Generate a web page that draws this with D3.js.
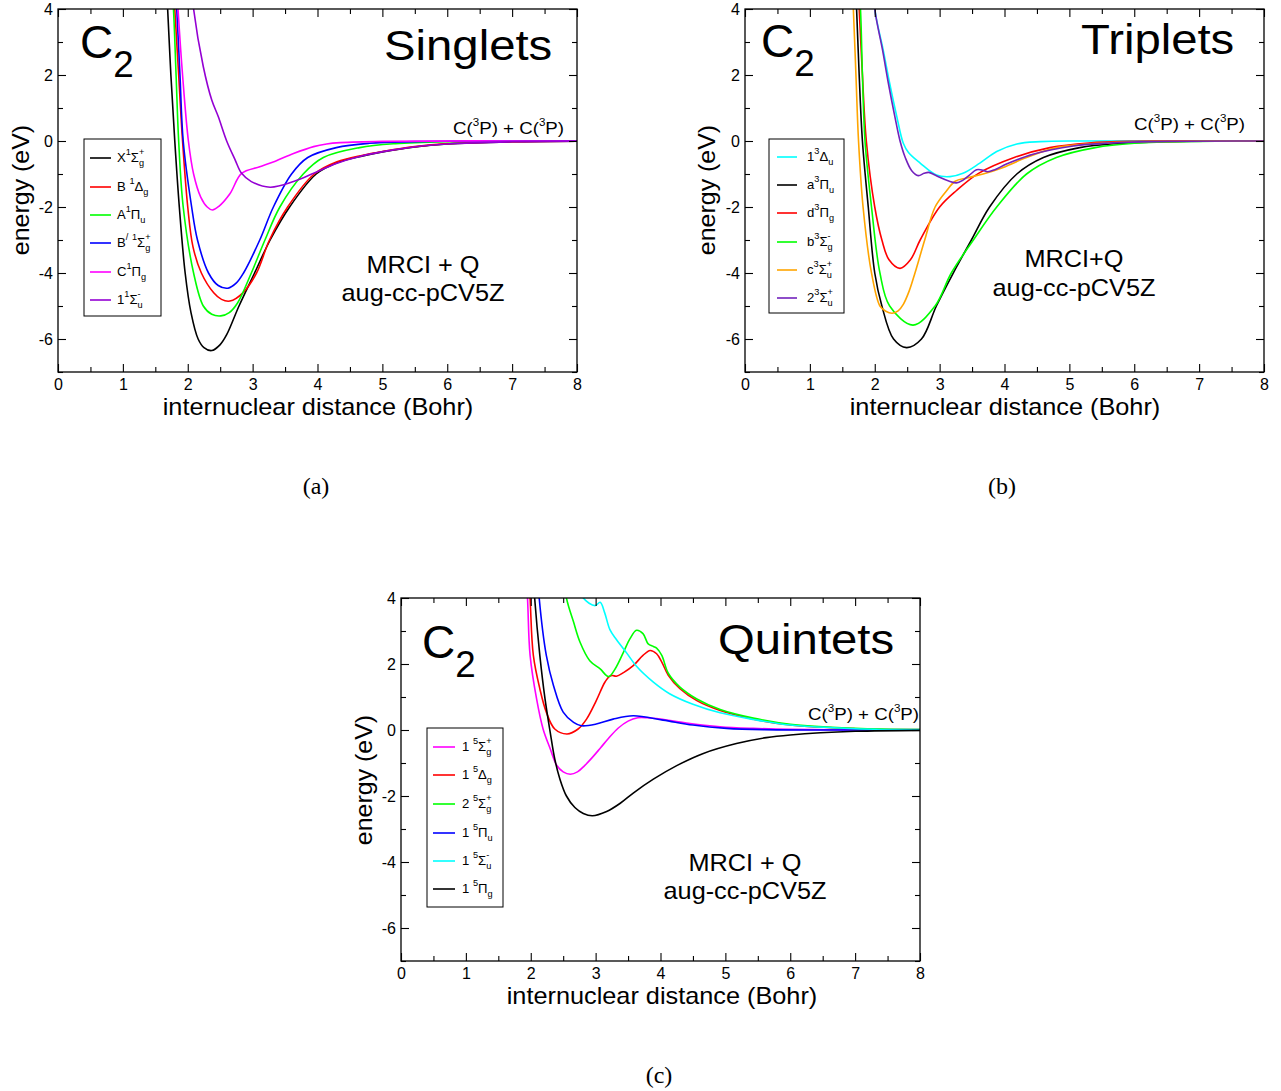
<!DOCTYPE html>
<html>
<head>
<meta charset="utf-8">
<script src="https://cdn.jsdelivr.net/npm/d3@7"></script>
<style>
  html, body { margin: 0; padding: 0; background: #fff; }
  svg { display: block; }
  text { font-family: "Liberation Sans", Arial, Helvetica, sans-serif; fill: #000; }
</style>
</head>
<body>
<svg id="chart" width="1281" height="1091"></svg>
<script>
// C2 potential energy curves, MRCI+Q / aug-cc-pCV5Z.
// Each state: [R (bohr), E (eV) relative to C(3P)+C(3P)].

const xTicks = [0, 1, 2, 3, 4, 5, 6, 7, 8];
const xTickLabels = ["0", "1", "2", "3", "4", "5", "6", "7", "8"];
const xMinor = [0.5, 1.5, 2.5, 3.5, 4.5, 5.5, 6.5, 7.5];
const yTicks = [-6, -4, -2, 0, 2, 4];
const yTickLabels = ["-6", "-4", "-2", "0", "2", "4"];
const yMinor = [-7, -5, -3, -1, 1, 3];
const rDomain = [0, 8];
const eDomain = [-7, 4];

// ---- singlets ----
const sX1Sg = [[1.62,6.5],[1.69,4],[1.74,2],[1.80,0],[1.87,-2],[1.96,-4],[2.05,-5.2],[2.16,-6],[2.25,-6.26],[2.37,-6.35],[2.5,-6.17],[2.6,-5.87],[2.79,-5.0],[3.03,-4.0],[3.27,-3.0],[3.57,-2.0],[3.98,-1.0],[4.3,-0.66],[4.7,-0.45],[5.0,-0.33],[5.5,-0.18],[6.0,-0.09],[7.0,-0.025],[8,-0.005]];
const sB1Dg = [[1.73,6.5],[1.80,4],[1.86,2],[1.92,0],[2.0,-2],[2.08,-3.2],[2.21,-4],[2.4,-4.6],[2.52,-4.8],[2.65,-4.85],[2.85,-4.6],[3.06,-4.0],[3.26,-3.0],[3.54,-2.0],[3.95,-1.0],[4.3,-0.63],[4.7,-0.43],[5.0,-0.32],[5.5,-0.17],[6.0,-0.08],[7.0,-0.02],[8,-0.005]];
const sA1Pu = [[1.70,6.5],[1.78,4],[1.82,2],[1.86,0],[1.93,-2],[2.09,-4],[2.24,-5.0],[2.37,-5.25],[2.51,-5.3],[2.64,-5.2],[2.77,-4.9],[2.98,-4.0],[3.19,-3.0],[3.42,-2.0],[3.78,-1.0],[4.09,-0.5],[4.65,-0.2],[5.2,-0.08],[6,-0.02],[7,-0.004],[8,0]];
const sBp1Sg = [[1.76,6.5],[1.83,4],[1.88,2],[1.93,0],[2.06,-2],[2.15,-3],[2.32,-4],[2.47,-4.38],[2.62,-4.46],[2.75,-4.3],[2.86,-4.0],[3.11,-3.0],[3.32,-2.0],[3.6,-1.0],[3.85,-0.5],[4.29,-0.2],[4.8,-0.07],[5.5,-0.02],[6.5,0],[8,0]];
const sC1Pg = [[1.78,6.5],[1.85,4],[1.92,2],[2.01,0],[2.09,-1],[2.2,-1.7],[2.3,-2.0],[2.38,-2.09],[2.48,-1.98],[2.65,-1.6],[2.83,-0.98],[3.11,-0.78],[3.35,-0.61],[3.63,-0.38],[3.94,-0.17],[4.14,-0.09],[4.35,-0.05],[5,-0.01],[8,0]];
const s11Su = [[1.98,6.5],[2.09,4],[2.24,2.25],[2.37,1.24],[2.47,0.74],[2.6,0],[2.73,-0.57],[2.83,-0.98],[2.98,-1.23],[3.27,-1.4],[3.63,-1.23],[3.94,-0.98],[4.29,-0.68],[4.65,-0.47],[5.17,-0.27],[5.6,-0.15],[6.0,-0.09],[7.0,-0.025],[8,-0.005]];

// ---- triplets ----
const t13Du = [[1.9,6.5],[2.0,4],[2.13,2.76],[2.23,1.75],[2.34,0.74],[2.44,-0.07],[2.52,-0.35],[2.7,-0.67],[2.95,-1.03],[3.16,-1.08],[3.36,-0.98],[3.62,-0.67],[3.88,-0.32],[4.19,-0.09],[4.55,-0.02],[5.2,0],[8,0]];
const ta3Pu = [[1.65,6.5],[1.72,4],[1.76,2],[1.81,0],[1.90,-2],[2.0,-4],[2.11,-5],[2.29,-6],[2.49,-6.26],[2.72,-6],[2.95,-5],[3.21,-4],[3.49,-3],[3.77,-2],[4.19,-1],[4.6,-0.5],[5.16,-0.2],[5.7,-0.08],[6.5,-0.02],[8,0]];
const td3Pg = [[1.68,6.5],[1.76,4],[1.81,2],[1.87,0],[2.0,-2],[2.11,-3],[2.22,-3.6],[2.39,-3.86],[2.55,-3.6],[2.70,-3.0],[3.0,-2.0],[3.26,-1.5],[3.6,-0.98],[4.15,-0.5],[4.7,-0.2],[5.3,-0.06],[6,-0.01],[8,0]];
const tb3Sg = [[1.7,6.5],[1.78,4],[1.81,2],[1.85,0],[1.95,-2],[2.08,-4],[2.23,-5],[2.59,-5.58],[2.93,-5],[3.18,-4],[3.52,-3],[3.88,-2],[4.34,-1],[4.8,-0.5],[5.4,-0.2],[6.0,-0.07],[7,-0.01],[8,0]];
const tc3Su = [[1.6,6.5],[1.67,4],[1.71,2],[1.75,0],[1.82,-2],[1.95,-4],[2.08,-5.0],[2.17,-5.16],[2.27,-5.22],[2.36,-5.15],[2.44,-4.95],[2.53,-4.55],[2.62,-4.0],[2.77,-3.0],[2.93,-2.0],[3.11,-1.5],[3.24,-1.22],[3.42,-1.12],[3.67,-1.0],[3.98,-0.8],[4.34,-0.5],[4.8,-0.2],[5.5,-0.06],[6.5,-0.01],[8,0]];
const t23Su = [[1.9,6.5],[2.0,4],[2.12,2.76],[2.21,1.75],[2.31,0.74],[2.39,0.0],[2.47,-0.5],[2.57,-0.9],[2.67,-1.05],[2.76,-0.98],[2.83,-0.95],[2.92,-1.02],[3.0,-1.1],[3.15,-1.22],[3.26,-1.27],[3.35,-1.2],[3.45,-1.05],[3.57,-0.87],[3.65,-0.88],[3.74,-0.93],[3.85,-0.87],[4.03,-0.7],[4.44,-0.4],[5.06,-0.15],[5.6,-0.06],[6.5,-0.01],[8,0]];

// ---- quintets ----
const q15Sg = [[1.88,6.5],[1.95,4],[1.99,2.26],[2.09,0.94],[2.19,0.03],[2.3,-0.57],[2.4,-1.07],[2.5,-1.27],[2.61,-1.34],[2.72,-1.27],[2.83,-1.08],[2.95,-0.83],[3.08,-0.53],[3.2,-0.25],[3.35,0.06],[3.5,0.27],[3.65,0.37],[3.8,0.37],[4.0,0.33],[4.4,0.21],[4.92,0.1],[5.43,0.05],[6,0.02],[7,0.005],[8,0]];
const q15Dg = [[1.93,6.5],[1.99,4],[2.04,2.26],[2.14,1.25],[2.24,0.54],[2.37,0.03],[2.56,-0.12],[2.73,0.03],[2.86,0.33],[3.01,0.89],[3.14,1.44],[3.21,1.62],[3.26,1.65],[3.32,1.63],[3.43,1.74],[3.58,1.95],[3.73,2.26],[3.84,2.41],[3.94,2.31],[4.02,2.06],[4.12,1.66],[4.3,1.25],[4.56,0.89],[4.92,0.59],[5.43,0.33],[6,0.15],[7,0.04],[8,0.01]];
const q25Sg = [[2.48,5],[2.55,4],[2.66,3.27],[2.76,2.66],[2.91,2.1],[3.07,1.85],[3.2,1.62],[3.3,1.85],[3.43,2.36],[3.53,2.77],[3.63,3.02],[3.73,2.92],[3.81,2.61],[3.89,2.53],[3.94,2.48],[4.02,2.26],[4.12,1.72],[4.3,1.3],[4.56,0.94],[4.92,0.62],[5.43,0.36],[6,0.17],[7,0.05],[8,0.01]];
const q15Pu = [[2.05,6.5],[2.13,4],[2.24,2.26],[2.35,1.35],[2.5,0.54],[2.66,0.23],[2.78,0.13],[3.01,0.18],[3.27,0.33],[3.58,0.43],[4.04,0.3],[4.5,0.15],[5.02,0.05],[5.6,0.01],[6.5,0],[8,0]];
const q15Su = [[2.7,4.6],[2.81,4],[2.99,3.77],[3.07,3.87],[3.14,3.55],[3.22,3.04],[3.32,2.74],[3.48,2.33],[3.63,1.93],[3.89,1.45],[4.14,1.1],[4.5,0.78],[4.92,0.52],[5.43,0.32],[6,0.15],[7,0.04],[8,0.01]];
const q15Pg = [[1.98,6.5],[2.06,4],[2.14,2.26],[2.22,0.94],[2.3,-0.07],[2.37,-0.88],[2.45,-1.49],[2.55,-2.0],[2.68,-2.35],[2.81,-2.53],[2.95,-2.6],[3.17,-2.47],[3.38,-2.22],[3.58,-1.91],[3.89,-1.49],[4.25,-1.08],[4.66,-0.71],[5.17,-0.41],[5.63,-0.23],[6,-0.15],[7,-0.04],[8,-0.01]];

// State labels: pieces of [text, kind]; kind "^" superscript, "_" subscript (stacked under a preceding superscript)
const singletLabels = [
  [["X",""],["1","^"],["Σ",""],["+","^"],["g","_"]],
  [["B\u00a0",""],["1","^"],["Δ",""],["g","_"]],
  [["A",""],["1","^"],["Π",""],["u","_"]],
  [["B",""],["/","^"],["\u00a0",""],["1","^"],["Σ",""],["+","^"],["g","_"]],
  [["C",""],["1","^"],["Π",""],["g","_"]],
  [["1",""],["1","^"],["Σ",""],["-","^"],["u","_"]]
];
const tripletLabels = [
  [["1",""],["3","^"],["Δ",""],["u","_"]],
  [["a",""],["3","^"],["Π",""],["u","_"]],
  [["d",""],["3","^"],["Π",""],["g","_"]],
  [["b",""],["3","^"],["Σ",""],["-","^"],["g","_"]],
  [["c",""],["3","^"],["Σ",""],["+","^"],["u","_"]],
  [["2",""],["3","^"],["Σ",""],["+","^"],["u","_"]]
];
const quintetLabels = [
  [["1\u00a0",""],["5","^"],["Σ",""],["+","^"],["g","_"]],
  [["1\u00a0",""],["5","^"],["Δ",""],["g","_"]],
  [["2\u00a0",""],["5","^"],["Σ",""],["+","^"],["g","_"]],
  [["1\u00a0",""],["5","^"],["Π",""],["u","_"]],
  [["1\u00a0",""],["5","^"],["Σ",""],["-","^"],["u","_"]],
  [["1\u00a0",""],["5","^"],["Π",""],["g","_"]]
];
const singletSeries = [sX1Sg, sB1Dg, sA1Pu, sBp1Sg, sC1Pg, s11Su];
const tripletSeries = [t13Du, ta3Pu, td3Pg, tb3Sg, tc3Su, t23Su];
const quintetSeries = [q15Sg, q15Dg, q25Sg, q15Pu, q15Su, q15Pg];

const panelTitles = ["Singlets", "Triplets", "Quintets"];
const methodLines = [["MRCI + Q", "aug-cc-pCV5Z"], ["MRCI+Q", "aug-cc-pCV5Z"], ["MRCI + Q", "aug-cc-pCV5Z"]];
const captions = ["(a)", "(b)", "(c)"];
const moleculeLabel = [["C",""],["2","_"]];
const asymptoteLabel = [["C(",""],["3","^"],["P) + C(",""],["3","^"],["P)",""]];
const xTitle = "internuclear distance (Bohr)";
const yTitle = "energy (eV)";

// ---- styles ----
const singletColors = ["#000000", "#ff0000", "#00ff00", "#0000ff", "#ff00ff", "#9400d3"];
const tripletColors = ["#00ffff", "#000000", "#ff0000", "#00ff00", "#ffa500", "#7221bc"];
const quintetColors = ["#ff00ff", "#ff0000", "#00ff00", "#0000ff", "#00ffff", "#000000"];

const panels = [
  { series: singletSeries, labels: singletLabels, colors: singletColors,
    box: {x0: 58, x1: 577, y0: 9, y1: 372},
    legend: {x: 84, y: 139, w: 77, h: 177, lineX0: 90, lineX1: 111, textX: 117, rows: [158,187,215,243,272,300]},
    mol: {x: 80, y: 58}, title: {x: 384, y: 60}, asym: {x: 453, y: 134},
    method: {x: 423, y: [273, 301]}, xt: {x: 318, y: 415}, yt: {x: 21, y: 190}, cap: {x: 316, y: 494} },
  { series: tripletSeries, labels: tripletLabels, colors: tripletColors,
    box: {x0: 745, x1: 1264, y0: 9, y1: 372},
    legend: {x: 769, y: 139, w: 75, h: 174, lineX0: 777, lineX1: 797, textX: 807, rows: [157,185,213,242,270,298]},
    mol: {x: 761, y: 57}, title: {x: 1081, y: 54}, asym: {x: 1134, y: 130},
    method: {x: 1074, y: [267, 296]}, xt: {x: 1005, y: 415}, yt: {x: 707, y: 190}, cap: {x: 1002, y: 494} },
  { series: quintetSeries, labels: quintetLabels, colors: quintetColors,
    box: {x0: 401, x1: 920, y0: 598, y1: 961},
    legend: {x: 427, y: 728, w: 76, h: 179, lineX0: 433, lineX1: 455, textX: 462, rows: [747,775,804,833,861,889]},
    mol: {x: 422, y: 658}, title: {x: 718, y: 654}, asym: {x: 808, y: 720},
    method: {x: 745, y: [871, 899]}, xt: {x: 662, y: 1004}, yt: {x: 364, y: 780}, cap: {x: 659, y: 1083} }
];

const MAJOR = 8, MINOR = 5;
const svg = d3.select("#chart");
svg.append("rect").attr("width", 1281).attr("height", 1091).attr("fill", "#fff");
const defs = svg.append("defs");

// Lays out a run of text pieces with super/subscripts; returns the group.
function richText(parent, x, y, pieces, o) {
  const size = o.size;
  let tf = `translate(${x},${y})`;
  if (o.rotate) tf += ` rotate(${o.rotate})`;
  tf += ` scale(${o.sx || 1},1)`;
  const g = parent.append("g").attr("transform", tf);
  const inner = g.append("g");
  let cx = 0, prevStart = 0, prevKind = "";
  for (const [t, kind] of pieces) {
    let fs = size, dy = 0;
    if (kind === "^") { fs = size * (o.supR || 0.6); dy = -size * (o.supDy || 0.45); }
    else if (kind === "_") { fs = size * (o.subR || 0.6); dy = size * (o.subDy || 0.3); }
    const start = (kind === "_" && prevKind === "^") ? prevStart : cx;
    const el = inner.append("text").attr("x", start).attr("y", dy).attr("font-size", fs).text(t);
    if (o.family) el.style("font-family", o.family);
    const w = el.node().getComputedTextLength();
    cx = Math.max(cx, start + w);
    prevStart = start; prevKind = kind;
  }
  const anchor = o.anchor || "start";
  const shift = anchor === "middle" ? -cx / 2 : anchor === "end" ? -cx : 0;
  inner.attr("transform", `translate(${shift},0)`);
  return g;
}

function styleAxis(g, fontSize) {
  g.select(".domain").remove();
  g.attr("font-family", null).attr("font-size", fontSize);
  g.selectAll("line").attr("stroke-width", 1.1);
}

panels.forEach((p, i) => {
  const b = p.box;
  const x = d3.scaleLinear().domain(rDomain).range([b.x0, b.x1]);
  const y = d3.scaleLinear().domain(eDomain).range([b.y1, b.y0]);
  const g = svg.append("g");

  const clipId = `clip-${i}`;
  defs.append("clipPath").attr("id", clipId)
    .append("rect").attr("x", b.x0).attr("y", b.y0).attr("width", b.x1 - b.x0).attr("height", b.y1 - b.y0);

  // curves (centripetal Catmull-Rom through the tabulated points)
  const line = d3.line().x(d => x(d[0])).y(d => y(d[1])).curve(d3.curveCatmullRom.alpha(0.5));
  const curves = g.append("g").attr("clip-path", `url(#${clipId})`);
  p.series.forEach((s, k) => {
    curves.append("path").attr("d", line(s)).attr("fill", "none")
      .attr("stroke", p.colors[k]).attr("stroke-width", 1.6).attr("stroke-linejoin", "round");
  });

  // axes: ticks point inward on all four sides
  const fmtX = d => xTickLabels[xTicks.indexOf(d)];
  const fmtY = d => yTickLabels[yTicks.indexOf(d)];
  const bot = g.append("g").attr("transform", `translate(0,${b.y1})`)
    .call(d3.axisBottom(x).tickValues(xTicks).tickFormat(fmtX).tickSize(-MAJOR).tickSizeOuter(0).tickPadding(7));
  styleAxis(bot, 16);
  const botMinor = g.append("g").attr("transform", `translate(0,${b.y1})`)
    .call(d3.axisBottom(x).tickValues(xMinor).tickFormat("").tickSize(-MINOR).tickSizeOuter(0));
  styleAxis(botMinor, 16);
  const top = g.append("g").attr("transform", `translate(0,${b.y0})`)
    .call(d3.axisTop(x).tickValues(xTicks).tickFormat("").tickSize(-MAJOR).tickSizeOuter(0));
  styleAxis(top, 16);
  const topMinor = g.append("g").attr("transform", `translate(0,${b.y0})`)
    .call(d3.axisTop(x).tickValues(xMinor).tickFormat("").tickSize(-MINOR).tickSizeOuter(0));
  styleAxis(topMinor, 16);
  const left = g.append("g").attr("transform", `translate(${b.x0},0)`)
    .call(d3.axisLeft(y).tickValues(yTicks).tickFormat(fmtY).tickSize(-MAJOR).tickSizeOuter(0).tickPadding(5));
  styleAxis(left, 16);
  const leftMinor = g.append("g").attr("transform", `translate(${b.x0},0)`)
    .call(d3.axisLeft(y).tickValues(yMinor).tickFormat("").tickSize(-MINOR).tickSizeOuter(0));
  styleAxis(leftMinor, 16);
  const right = g.append("g").attr("transform", `translate(${b.x1},0)`)
    .call(d3.axisRight(y).tickValues(yTicks).tickFormat("").tickSize(-MAJOR).tickSizeOuter(0));
  styleAxis(right, 16);
  const rightMinor = g.append("g").attr("transform", `translate(${b.x1},0)`)
    .call(d3.axisRight(y).tickValues(yMinor).tickFormat("").tickSize(-MINOR).tickSizeOuter(0));
  styleAxis(rightMinor, 16);

  g.append("rect").attr("x", b.x0).attr("y", b.y0).attr("width", b.x1 - b.x0).attr("height", b.y1 - b.y0)
    .attr("fill", "none").attr("stroke", "#000").attr("stroke-width", 1.3);

  // legend
  const L = p.legend;
  g.append("rect").attr("x", L.x).attr("y", L.y).attr("width", L.w).attr("height", L.h)
    .attr("fill", "#fff").attr("stroke", "#000").attr("stroke-width", 1);
  p.labels.forEach((lab, k) => {
    const ry = L.rows[k];
    g.append("line").attr("x1", L.lineX0).attr("x2", L.lineX1).attr("y1", ry).attr("y2", ry)
      .attr("stroke", p.colors[k]).attr("stroke-width", 1.6);
    richText(g, L.textX, ry + 4, lab, {size: 12.5, sx: 1.05, supR: 0.7, supDy: 0.55, subR: 0.7, subDy: 0.33});
  });

  // annotations
  richText(g, p.mol.x, p.mol.y, moleculeLabel, {size: 46, subR: 0.8, subDy: 0.41});
  richText(g, p.title.x, p.title.y, [[panelTitles[i], ""]], {size: 43, sx: 1.1});
  richText(g, p.asym.x, p.asym.y, asymptoteLabel, {size: 17, sx: 1.1, supR: 0.62, supDy: 0.45});
  richText(g, p.method.x, p.method.y[0], [[methodLines[i][0], ""]], {size: 23, sx: 1.1, anchor: "middle"});
  richText(g, p.method.x, p.method.y[1], [[methodLines[i][1], ""]], {size: 23, sx: 1.1, anchor: "middle"});
  richText(g, p.xt.x, p.xt.y, [[xTitle, ""]], {size: 23, sx: 1.1, anchor: "middle"});
  richText(g, p.yt.x + 8, p.yt.y, [[yTitle, ""]], {size: 24, sx: 1.04, anchor: "middle", rotate: -90});
  richText(svg, p.cap.x, p.cap.y, [[captions[i], ""]], {size: 24, anchor: "middle",
    family: '"Liberation Serif", "DejaVu Serif", serif'});
});
</script>
</body>
</html>
